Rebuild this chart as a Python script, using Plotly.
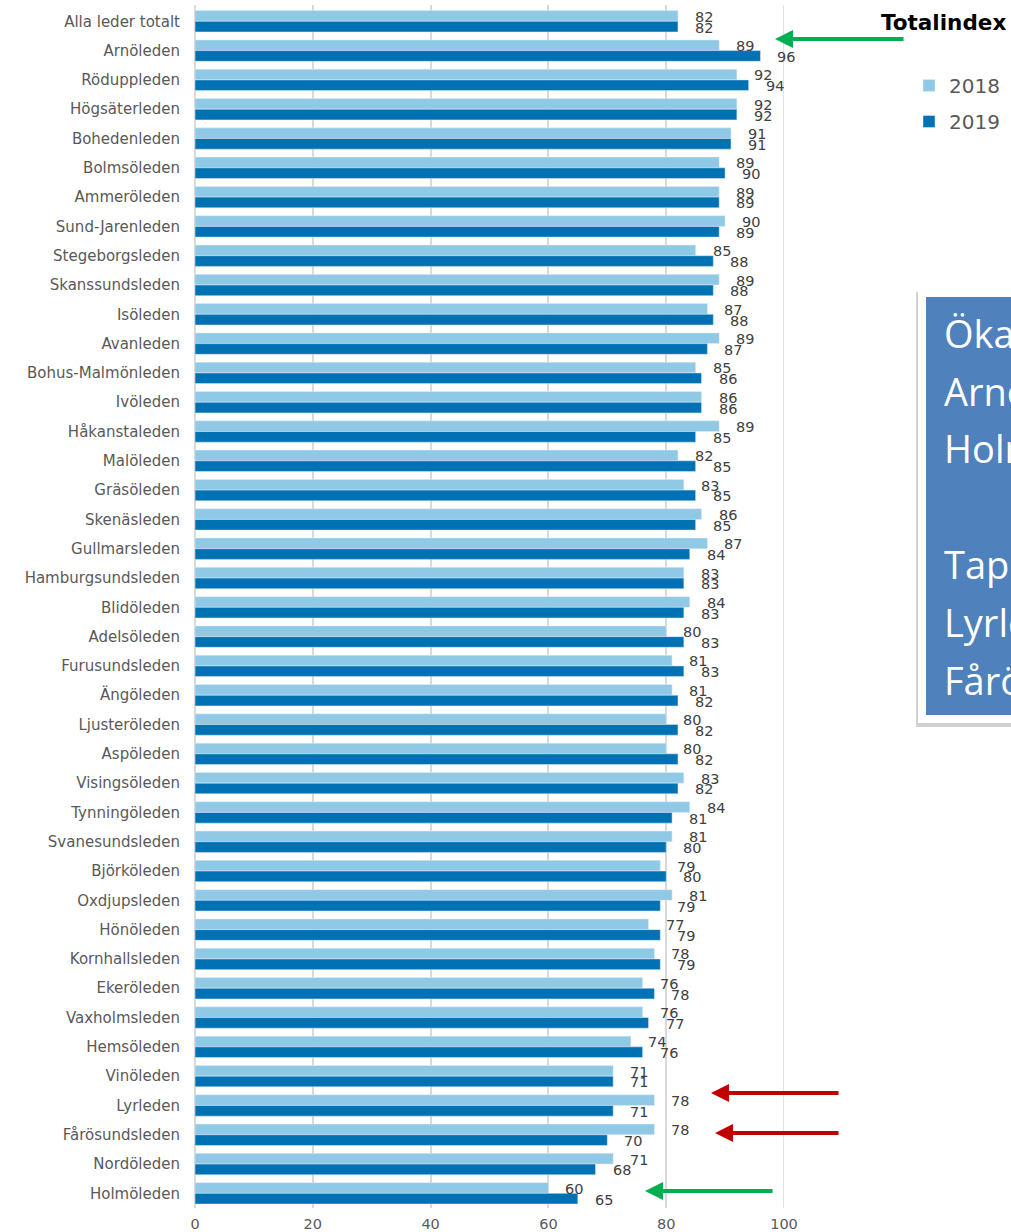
import plotly.graph_objects as go

categories = [
    "Alla leder totalt", "Arnöleden", "Röduppleden", "Högsäterleden", "Bohedenleden",
    "Bolmsöleden", "Ammeröleden", "Sund-Jarenleden", "Stegeborgsleden", "Skanssundsleden",
    "Isöleden", "Avanleden", "Bohus-Malmönleden", "Ivöleden", "Håkanstaleden",
    "Malöleden", "Gräsöleden", "Skenäsleden", "Gullmarsleden", "Hamburgsundsleden",
    "Blidöleden", "Adelsöleden", "Furusundsleden", "Ängöleden", "Ljusteröleden",
    "Aspöleden", "Visingsöleden", "Tynningöleden", "Svanesundsleden", "Björköleden",
    "Oxdjupsleden", "Hönöleden", "Kornhallsleden", "Ekeröleden", "Vaxholmsleden",
    "Hemsöleden", "Vinöleden", "Lyrleden", "Fårösundsleden", "Nordöleden", "Holmöleden",
]
values_2018 = [82, 89, 92, 92, 91, 89, 89, 90, 85, 89, 87, 89, 85, 86, 89, 82, 83, 86, 87, 83,
               84, 80, 81, 81, 80, 80, 83, 84, 81, 79, 81, 77, 78, 76, 76, 74, 71, 78, 78, 71, 60]
values_2019 = [82, 96, 94, 92, 91, 90, 89, 89, 88, 88, 88, 87, 86, 86, 85, 85, 85, 85, 84, 83,
               83, 83, 83, 82, 82, 82, 82, 81, 80, 80, 79, 79, 79, 78, 77, 76, 71, 71, 70, 68, 65]
series_names = ["2018", "2019"]
x_ticks = [0, 20, 40, 60, 80, 100]
title_text = "Totalindex"
box_lines = ["Ökade:", "Arnöleden", "Holmöleden", "Tappade:", "Lyrleden", "Fårösundsleden"]

C18 = "#8FC9E6"
C19 = "#0071B3"
FONT = "DejaVu Sans"
GREY = "#595959"

W, H = 1011, 1232
ML, MR, MT, MB = 195, 227, 5, 24
PW = W - ML - MR
PH = H - MT - MB


def px_x(px):
    return (px - ML) / PW


def px_y(py):
    return (H - MB - py) / PH


fig = go.Figure()
fig.add_trace(go.Bar(y=categories, x=values_2018, name=series_names[0], orientation="h",
                     marker=dict(color=C18), legendgroup="g18"))
fig.add_trace(go.Bar(y=categories, x=values_2019, name=series_names[1], orientation="h",
                     marker=dict(color=C19), legendgroup="g19"))

annotations = []
for cat, v18, v19 in zip(categories, values_2018, values_2019):
    annotations.append(dict(x=v18, y=cat, xref="x", yref="y", text=str(v18), showarrow=False,
                            xanchor="left", yanchor="middle", xshift=15, yshift=4.5,
                            font=dict(family=FONT, size=14.5, color="#404040")))
    annotations.append(dict(x=v19, y=cat, xref="x", yref="y", text=str(v19), showarrow=False,
                            xanchor="left", yanchor="middle", xshift=15, yshift=-6.3,
                            font=dict(family=FONT, size=14.5, color="#404040")))

# title
annotations.append(dict(x=px_x(1008), y=px_y(22), xref="paper", yref="paper", text="<b>" + title_text + "</b>",
                        showarrow=False, xanchor="right", yanchor="middle",
                        font=dict(family=FONT, size=21.5, color="#000000")))

# arrows
for tip_x, tip_y, tail_x, col in [(775, 39, 905, "#00B050"), (711, 1093, 840, "#C00000"),
                                   (715, 1133, 840, "#C00000"), (645, 1191, 774, "#00B050")]:
    annotations.append(dict(x=px_x(tip_x), y=px_y(tip_y), xref="paper", yref="paper", text="",
                            showarrow=True, ax=tail_x - tip_x, ay=0, arrowhead=2, arrowsize=0.9,
                            arrowwidth=4, arrowcolor=col, standoff=0))

# text box lines
for line, cy in zip(box_lines, [333, 391, 448, 564, 622, 680]):
    annotations.append(dict(x=px_x(942), y=px_y(cy), xref="paper", yref="paper", text=line,
                            showarrow=False, xanchor="left", yanchor="middle",
                            font=dict(family="Open Sans", size=38, color="#FFFFFF")))

shapes = [
    dict(type="line", xref="x", yref="paper", x0=x_ticks[-1], x1=x_ticks[-1], y0=0, y1=1,
         line=dict(color="#D9D9D9", width=1.5), layer="below"),
    dict(type="rect", xref="paper", yref="paper", x0=px_x(916), x1=px_x(1040), y0=px_y(292), y1=px_y(727),
         fillcolor="rgba(0,0,0,0.18)", line=dict(width=0), layer="above"),
    dict(type="rect", xref="paper", yref="paper", x0=px_x(918), x1=px_x(1040), y0=px_y(290), y1=px_y(723),
         fillcolor="#FFFFFF", line=dict(width=0), layer="above"),
    dict(type="rect", xref="paper", yref="paper", x0=px_x(926), x1=px_x(1040), y0=px_y(297), y1=px_y(715),
         fillcolor="#4F81BD", line=dict(width=0), layer="above"),
]

fig.update_layout(
    width=W, height=H,
    margin=dict(l=ML, r=MR, t=MT, b=MB, pad=0),
    paper_bgcolor="white", plot_bgcolor="white",
    barmode="group", bargap=0.27, bargroupgap=0,
    font=dict(family=FONT, color=GREY),
    xaxis=dict(range=[0, 100], tickvals=x_ticks, showgrid=True, gridcolor="#D9D9D9", gridwidth=1.5,
               zeroline=True, zerolinecolor="#D9D9D9", zerolinewidth=1.5, showline=False,
               ticklabelstandoff=5, automargin=False,
               tickfont=dict(family=FONT, size=14.5, color=GREY), fixedrange=True),
    yaxis=dict(autorange="reversed", showgrid=False, zeroline=False, showline=False, automargin=False,
               ticklabelstandoff=14, tickfont=dict(family=FONT, size=15, color=GREY)),
    legend=dict(x=px_x(909), y=px_y(66), xanchor="left", yanchor="top", orientation="v",
                traceorder="grouped", tracegroupgap=7, bgcolor="rgba(0,0,0,0)",
                font=dict(family=FONT, size=20, color=GREY)),
    annotations=annotations,
    shapes=shapes,
)

fig.write_html("out.html")
